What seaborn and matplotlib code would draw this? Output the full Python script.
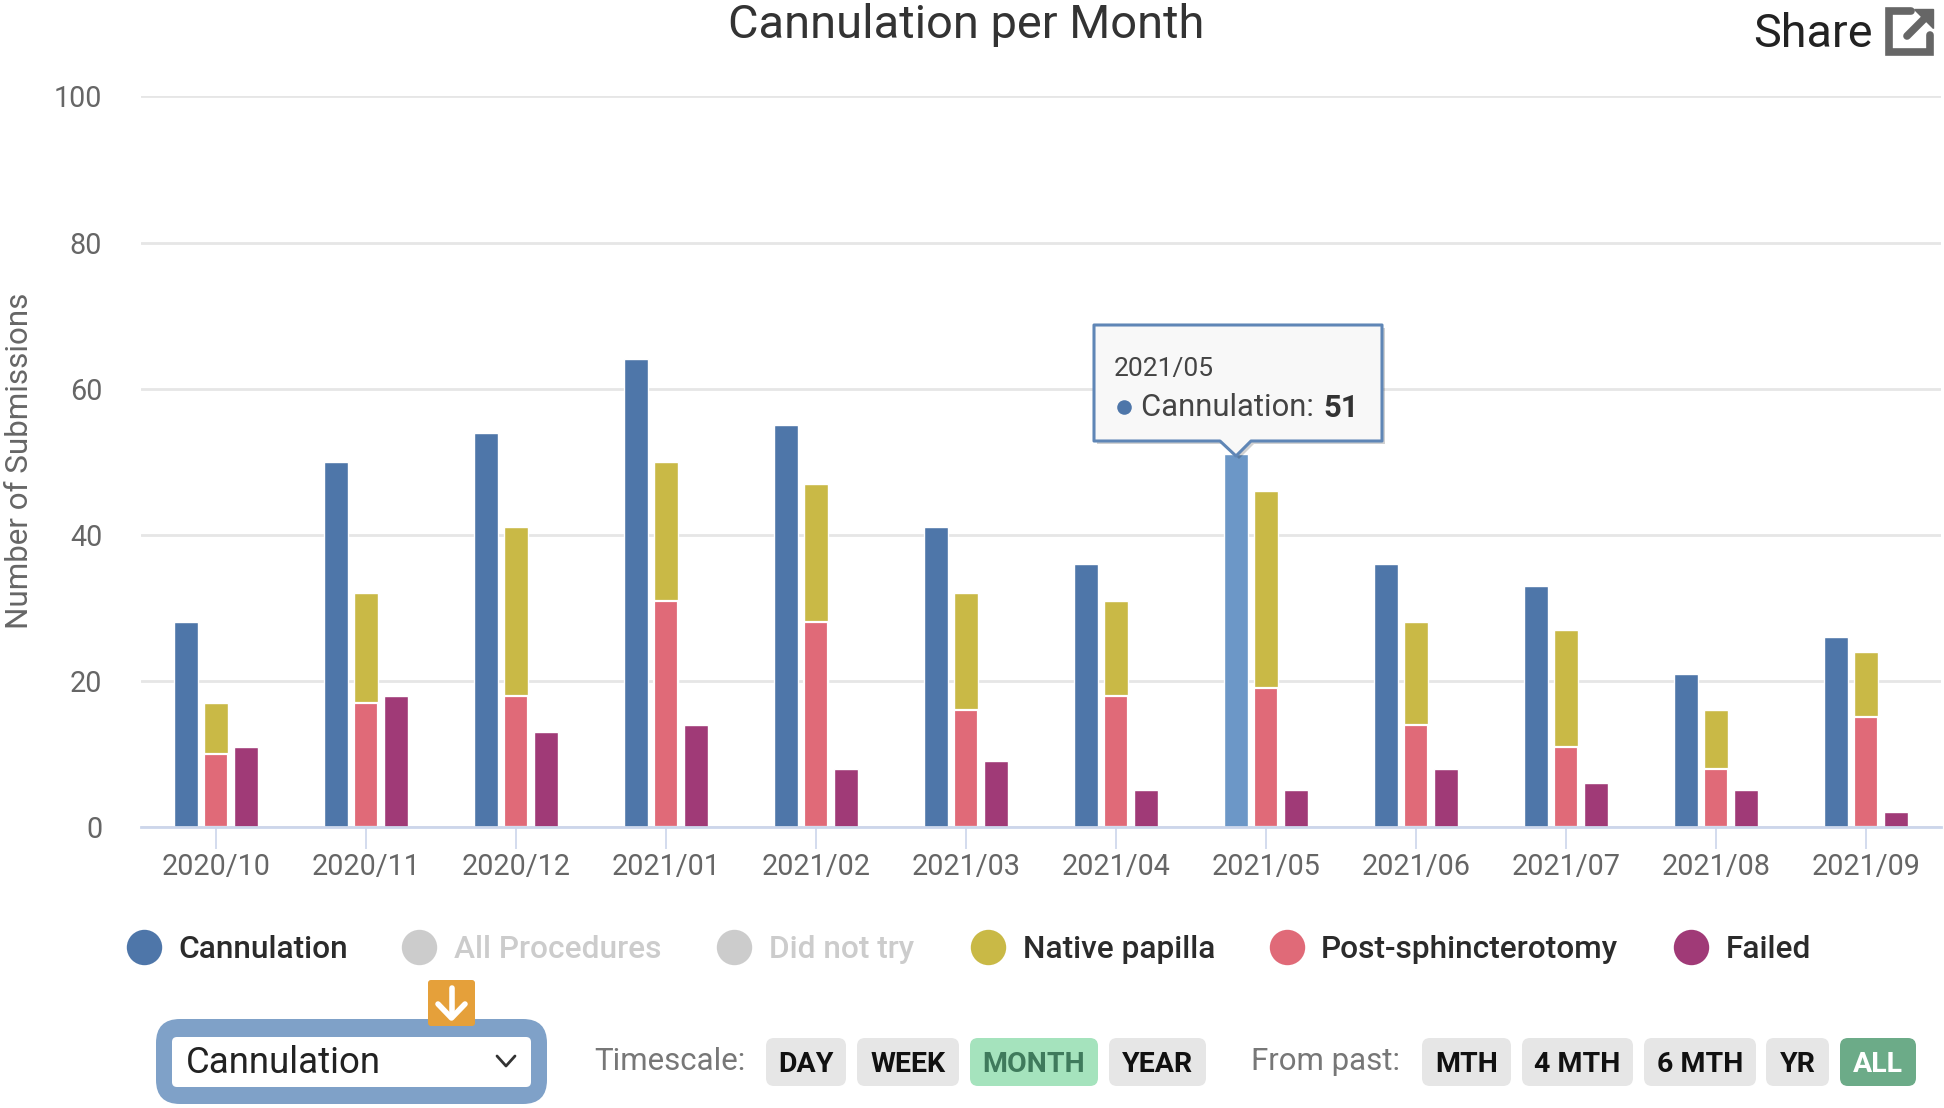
import numpy as np
import pandas as pd
import seaborn as sns
import matplotlib.pyplot as plt
from matplotlib.patches import FancyBboxPatch, Polygon

# Values
months = ['2020/10', '2020/11', '2020/12', '2021/01', '2021/02', '2021/03',
          '2021/04', '2021/05', '2021/06', '2021/07', '2021/08', '2021/09']
cannulation = [28, 50, 54, 64, 55, 41, 36, 51, 36, 33, 21, 26]
post_sphincterotomy = [10, 17, 18, 31, 28, 16, 18, 19, 14, 11, 8, 15]
native_papilla = [7, 15, 23, 19, 19, 16, 13, 27, 14, 16, 8, 9]
failed = [11, 18, 13, 14, 8, 9, 5, 5, 8, 6, 5, 2]

BLUE = '#4e76a9'
BLUE_HOVER = '#6c97c7'
YELLOW = '#c9b946'
PINK = '#e06a78'
PURPLE = '#a03a77'
GREY_TEXT = '#666666'
DARK_TEXT = '#2b2b2b'

sns.set_theme(style='white')
plt.rcParams['font.family'] = ['Roboto', 'DejaVu Sans']

W, H = 1944, 1108
fig = plt.figure(figsize=(W / 100, H / 100), dpi=100, facecolor='white')
ax = fig.add_axes([141 / W, (H - 827) / H, 1800 / W, 730.5 / H])

groups = ['Cannulation', 'Procedures', 'Failed']
group_col = ['Cannulation'] * 12 + ['Procedures'] * 12 + ['Failed'] * 12

# three dodged slots per month, the middle one is stacked:
# yellow drawn to the full height, pink over it
stack_total = [p + n for p, n in zip(post_sphincterotomy, native_papilla)]
df = pd.DataFrame({
    'month': months * 3,
    'group': group_col,
    'value': cannulation + stack_total + failed,
})
df_post = pd.DataFrame({
    'month': months * 3,
    'group': group_col,
    'value': [np.nan] * 12 + post_sphincterotomy + [np.nan] * 12,
})

sns.barplot(data=df, x='month', y='value', hue='group', hue_order=groups,
            palette=[BLUE, YELLOW, PURPLE], order=months, width=0.6, gap=0.2,
            saturation=1, legend=False, ax=ax)
sns.barplot(data=df_post, x='month', y='value', hue='group', hue_order=groups,
            palette=[BLUE, PINK, PURPLE], order=months, width=0.6, gap=0.2,
            saturation=1, legend=False, ax=ax)

# white seam between the stacked parts
for bar in ax.containers[-2]:
    bar.set_edgecolor('white')
    bar.set_linewidth(1.6)

# hovered bar is lighter
ax.containers[0][months.index('2021/05')].set_facecolor(BLUE_HOVER)

ax.set_ylim(0, 100)
ax.set_xlim(-0.5, 11.5)
ax.set_yticks(range(0, 101, 20))
ax.set_axisbelow(True)
ax.grid(axis='y', color='#e6e6e6', linewidth=2)
ax.set_xlabel('')
ax.set_ylabel('')
sns.despine(ax=ax, left=True)
ax.spines['bottom'].set_color('#ccd6eb')
ax.spines['bottom'].set_linewidth(2)
ax.tick_params(axis='y', length=0, pad=28, labelsize=20.7, labelcolor=GREY_TEXT)
ax.tick_params(axis='x', bottom=True, length=16, width=1.2, color='#ccd6eb', pad=3,
               labelsize=20.7, labelcolor=GREY_TEXT)
ax.set_title('Cannulation per Month', x=(966 - 141) / 1800, y=(827 - 33) / 730.5,
             va='center', fontsize=33.8, color='#333333')

# overlay in pixel coordinates for the page furniture
ui = fig.add_axes([0, 0, 1, 1], facecolor='none')
ui.set_xlim(0, W)
ui.set_ylim(H, 0)
ui.axis('off')

ui.text(20, 461, 'Number of Submissions', rotation=90, ha='center', va='center',
        fontsize=22.6, color=GREY_TEXT)

# share link
ui.text(1753, 34, 'Share', ha='left', va='center', fontsize=33.7, color='#222222')
ui.plot([1911, 1889, 1889, 1930, 1930], [11, 11, 52, 52, 35], color='#666666',
        lw=5.5, solid_joinstyle='miter')
ui.plot([1907, 1927], [36, 16], color='#666666', lw=5.5)
ui.add_patch(Polygon([(1914, 9), (1933, 9), (1933, 28)], color='#666666'))

# tooltip
box = [(1094, 325), (1382, 325), (1382, 441), (1251, 441), (1236, 456),
       (1220, 441), (1094, 441)]
ui.add_patch(Polygon([(x + 3, y + 3) for x, y in box], facecolor='#000000',
                     alpha=0.18, edgecolor='none'))
ui.add_patch(Polygon(box, facecolor='#f8f8f8', edgecolor='#5f86b6', lw=2.2,
                     joinstyle='round'))
ui.text(1114, 369, '2021/05', ha='left', va='center', fontsize=19, color='#444444')
ui.scatter([1124], [407], s=110, color=BLUE, linewidths=0)
ui.text(1141, 408, 'Cannulation: ', ha='left', va='center', fontsize=22.3,
        color='#444444')
ui.text(1323, 408, '51', ha='left', va='center', fontsize=22.3, color='#333333',
        fontweight='bold')

# legend
legend_items = [
    ('Cannulation', 144, 178, BLUE, DARK_TEXT),
    ('All Procedures', 419, 454, '#cccccc', '#cccccc'),
    ('Did not try', 734, 769, '#cccccc', '#cccccc'),
    ('Native papilla', 988, 1023, YELLOW, DARK_TEXT),
    ('Post-sphincterotomy', 1287, 1321, PINK, DARK_TEXT),
    ('Failed', 1691, 1726, PURPLE, DARK_TEXT),
]
for label, cx, tx, dot, txt in legend_items:
    ui.scatter([cx], [947], s=650, color=dot, linewidths=0)
    ui.text(tx, 950, label, ha='left', va='center', fontsize=22.8, color=txt,
            fontweight='medium')


def rounded(x0, y0, x1, y1, r, color, z=2):
    ui.add_patch(FancyBboxPatch((x0 + r, y0 + r), x1 - x0 - 2 * r, y1 - y0 - 2 * r,
                                boxstyle=f'round,pad={r}', facecolor=color,
                                edgecolor='none', zorder=z))


# dropdown
rounded(156, 1019, 547, 1104, 24, '#7fa1c8')
rounded(172, 1037, 531, 1087, 5, 'white')
ui.text(186, 1063, 'Cannulation', ha='left', va='center', fontsize=26.4,
        color='#222222', zorder=3)
ui.plot([497, 506, 515], [1056, 1066, 1056], color='#333333', lw=2, zorder=3)

# orange arrow badge
rounded(428, 980, 475, 1026, 3, '#e5a03a', z=4)
ui.plot([451.5, 451.5], [988, 1016], color='white', lw=4, zorder=5)
ui.plot([438, 451.5, 465], [1004, 1018, 1004], color='white', lw=4, zorder=5)

# timescale and range buttons
ui.text(594, 1062, 'Timescale:', ha='left', va='center', fontsize=22.5, color='#777777')
ui.text(1251, 1062, 'From past:', ha='left', va='center', fontsize=22.5, color='#777777')
buttons = [
    ('DAY', 766, 846, '#e6e6e6', '#111111'),
    ('WEEK', 857, 959, '#e6e6e6', '#111111'),
    ('MONTH', 970, 1098, '#a5e3bd', '#3f7a5c'),
    ('YEAR', 1109, 1206, '#e6e6e6', '#111111'),
    ('MTH', 1422, 1511, '#e6e6e6', '#111111'),
    ('4 MTH', 1522, 1633, '#e6e6e6', '#111111'),
    ('6 MTH', 1644, 1756, '#e6e6e6', '#111111'),
    ('YR', 1766, 1829, '#e6e6e6', '#111111'),
    ('ALL', 1840, 1916, '#6cab88', 'white'),
]
for label, x0, x1, bg, fg in buttons:
    rounded(x0, 1038, x1, 1086, 8, bg)
    ui.text((x0 + x1) / 2, 1065, label, ha='center', va='center', fontsize=20.5,
            color=fg, fontweight='bold', zorder=3)

fig.savefig('out.png', dpi=100)
